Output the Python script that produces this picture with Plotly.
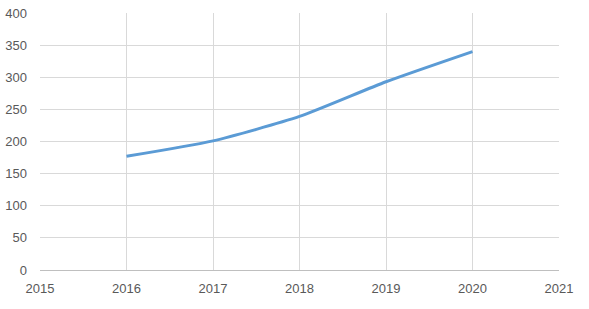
import plotly.graph_objects as go

years = [2016, 2017, 2018, 2019, 2020]
values = [177, 201, 239, 293, 340]
x_ticks = [2015, 2016, 2017, 2018, 2019, 2020, 2021]
y_ticks = [0, 50, 100, 150, 200, 250, 300, 350, 400]

fig = go.Figure()
fig.add_trace(go.Scatter(
    x=years, y=values, mode="lines",
    line=dict(color="#5B9BD5", width=3, shape="spline", smoothing=0.6),
    showlegend=False, hoverinfo="skip",
))

font = dict(family="Liberation Sans, Arial, sans-serif", size=13, color="#595959")
fig.update_layout(
    width=589, height=309,
    margin=dict(l=40, r=30, t=13, b=39),
    paper_bgcolor="white", plot_bgcolor="white",
    font=font,
    xaxis=dict(
        range=[2015, 2021], tickvals=x_ticks, ticktext=[str(t) for t in x_ticks],
        showgrid=True, gridcolor="#D9D9D9", gridwidth=1,
        showline=True, linecolor="#BFBFBF", linewidth=1,
        zeroline=False, ticks="", ticklabelstandoff=6, fixedrange=True,
        automargin=False,
    ),
    yaxis=dict(
        range=[0, 400], tickvals=y_ticks,
        showgrid=True, gridcolor="#D9D9D9", gridwidth=1,
        showline=False, zeroline=False, ticks="", ticklabelstandoff=12,
        fixedrange=True, automargin=False,
    ),
)
fig.write_html("out.html")
